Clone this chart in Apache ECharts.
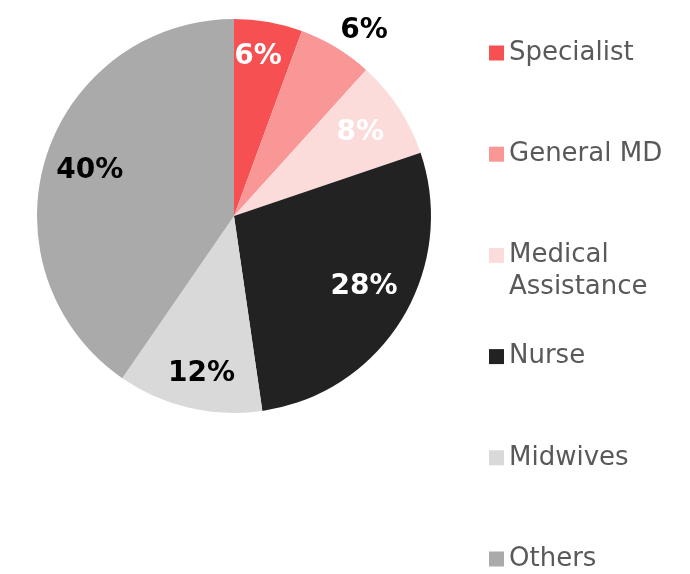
<!DOCTYPE html>
<html>
<head>
<meta charset="utf-8">
<script src="https://cdn.jsdelivr.net/npm/echarts@6/dist/echarts.min.js"></script>
<style>
  html, body { margin: 0; padding: 0; background: #fff; }
  #chart { width: 690px; height: 574px; }
</style>
</head>
<body>
<div id="chart"></div>
<script>
// share of staff by category (%)
const categories = ['Specialist', 'General MD', 'Medical Assistance', 'Nurse', 'Midwives', 'Others']
const shares = [5.6, 6.1, 8.1, 27.9, 11.9, 40.4]

const colors = ['#f75052', '#f99696', '#fcdbdb', '#222222', '#d9d9d9', '#aaaaaa']
const labelColors = ['#ffffff', '#000000', '#ffffff', '#ffffff', '#000000', '#000000']

const center = [234, 216]
const font = 'DejaVu Sans'

const chart = echarts.init(document.getElementById('chart'))

// transparent pie only used to place the percent labels at a given distance
const labelRing = (labelRadius, which, startAngle) => ({
  type: 'pie',
  center: center,
  radius: [0, labelRadius * 2],
  startAngle: startAngle,
  clockwise: true,
  silent: true,
  emphasis: { disabled: true },
  itemStyle: { color: 'rgba(0,0,0,0)', borderWidth: 0 },
  labelLine: { show: false },
  data: categories.map((name, i) => ({
    name: name,
    value: shares[i],
    label: {
      show: which.includes(i),
      position: 'inside',
      formatter: (p) => Math.round(p.percent) + '%',
      color: labelColors[i],
      fontFamily: font,
      fontWeight: 'bold',
      fontSize: 28,
    },
  })),
})

// one legend per entry so the entries sit on an even grid,
// the wrapped one keeps its square on the first line
const legends = categories.map((name, i) => {
  const wrapped = name === 'Medical Assistance'
  return {
    orient: 'vertical',
    left: 489,
    top: 37 + i * 101.2 - (wrapped ? 32 : 0),
    padding: 0,
    data: [name],
    icon: 'rect',
    itemWidth: 15,
    itemHeight: 15,
    selectedMode: false,
    formatter: (n) => (n === 'Medical Assistance' ? '\nMedical\nAssistance' : n),
    textStyle: {
      fontFamily: font,
      fontSize: 26,
      lineHeight: 32,
      color: '#595959',
    },
  }
})

const option = {
  backgroundColor: '#ffffff',
  animation: false,
  legend: legends,
  series: [
    {
      type: 'pie',
      center: center,
      radius: [0, 197],
      startAngle: 90,
      clockwise: true,
      silent: true,
      emphasis: { disabled: true },
      label: { show: false },
      labelLine: { show: false },
      itemStyle: { borderWidth: 0 },
      data: categories.map((name, i) => ({
        name: name,
        value: shares[i],
        itemStyle: { color: colors[i] },
      })),
    },
    labelRing(158, [0, 4], 91.5),
    labelRing(148, [2, 5], 90),
    labelRing(145, [3], 93),
    labelRing(223, [1], 86),
  ],
}

chart.setOption(option)
</script>
</body>
</html>
